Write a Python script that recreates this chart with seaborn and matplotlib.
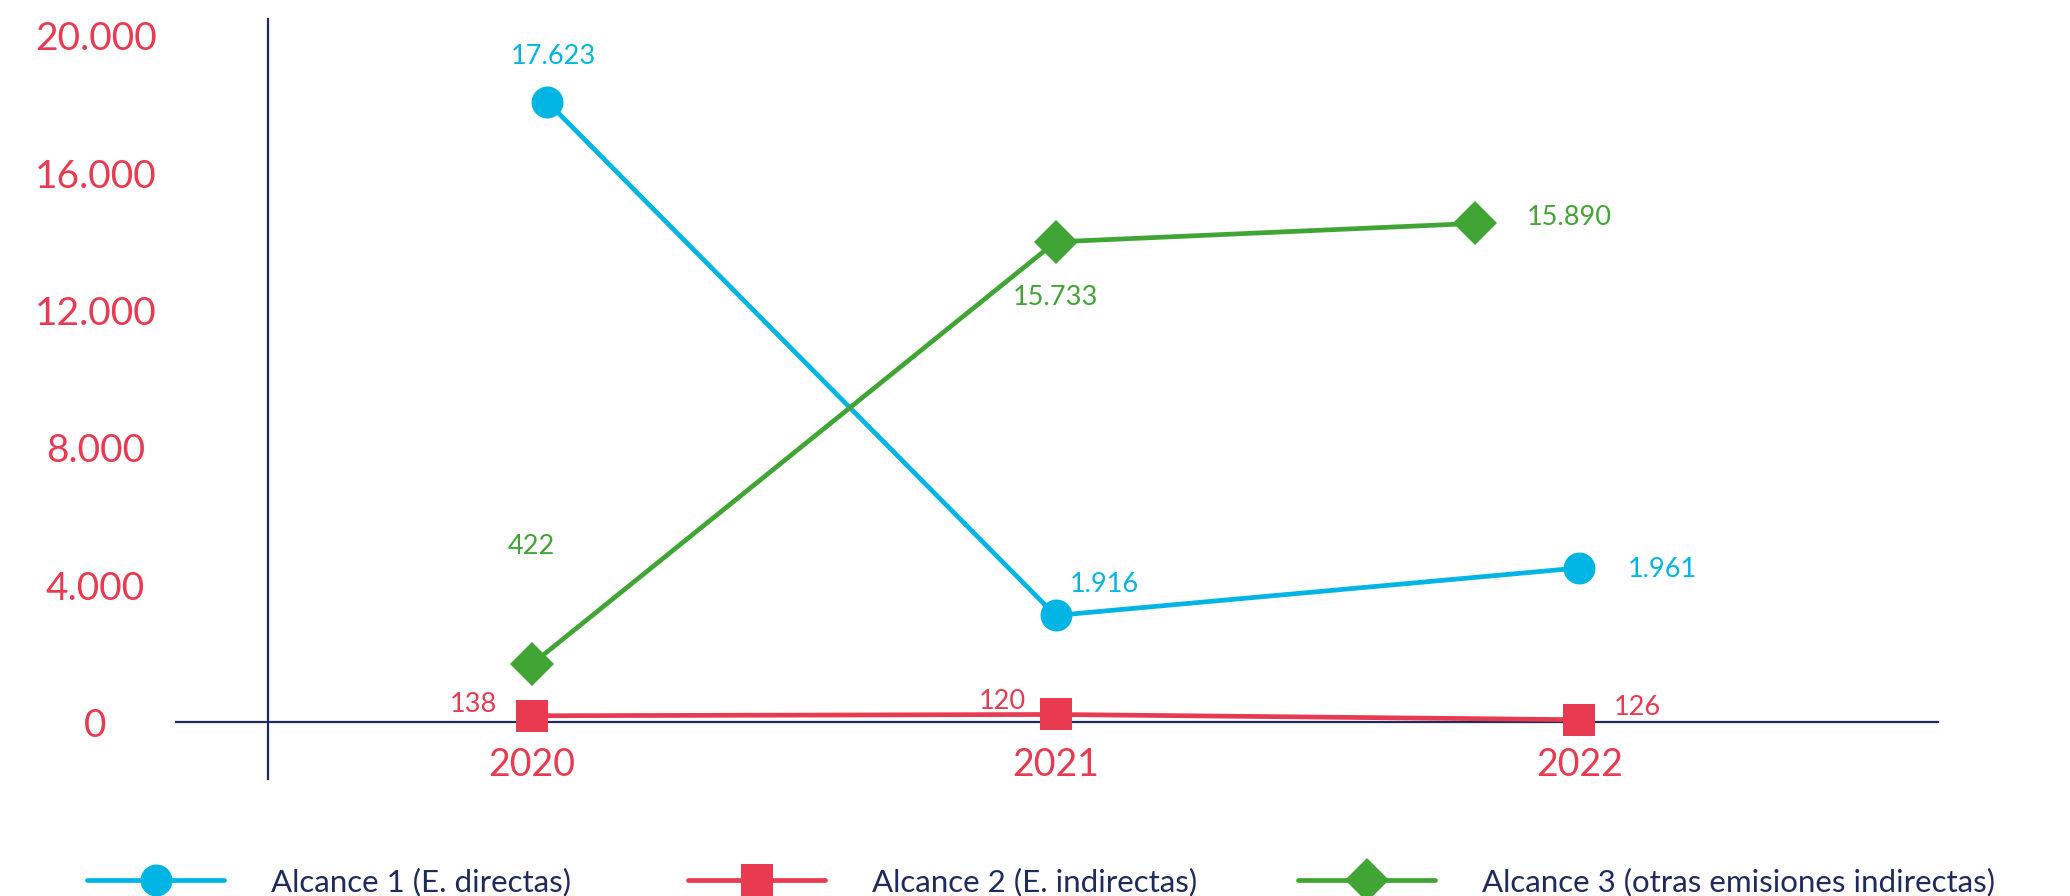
import matplotlib
matplotlib.use("Agg")
import matplotlib.pyplot as plt
import seaborn as sns

# data (plotted positions) and the printed labels
years = [2020, 2021, 2022]
a1_x = [2020.03, 2021.0, 2022.0]
a1_y = [18077, 3115, 4500]
a1_labels = ["17.623", "1.916", "1.961"]

a2_x = [2020.0, 2021.0, 2022.0]
a2_y = [192, 230, 77]
a2_labels = ["138", "120", "126"]

a3_x = [2020.0, 2021.0, 2021.8]
a3_y = [1692, 14000, 14538]
a3_labels = ["422", "15.733", "15.890"]

series_names = ["Alcance 1 (E. directas)",
                "Alcance 2 (E. indirectas)",
                "Alcance 3 (otras emisiones indirectas)"]
yticks = [0, 4000, 8000, 12000, 16000, 20000]

#colours
BLUE = "#00B5E4"
RED = "#E83A50"
GREEN = "#41A535"
NAVY = "#1F2A5E"

sns.set_style("white")
plt.rcParams["font.family"] = ["Lato", "DejaVu Sans"]

fig = plt.figure(figsize=(20.7, 8.96), dpi=100)
ax = fig.add_axes([0.0848, 0.1306, 0.8515, 0.8484])

# lines
sns.lineplot(x=a1_x, y=a1_y, ax=ax, color=BLUE, linewidth=3.4, marker="o",
             markersize=23, markeredgewidth=0, sort=False, label=series_names[0], zorder=3)
sns.lineplot(x=a2_x, y=a2_y, ax=ax, color=RED, linewidth=3.4, marker="s",
             markersize=23, markeredgewidth=0, sort=False, label=series_names[1], zorder=3)
sns.lineplot(x=a3_x, y=a3_y, ax=ax, color=GREEN, linewidth=3.4, marker="D",
             markersize=22, markeredgewidth=0, sort=False, label=series_names[2], zorder=3)

# data labels (offsets in points)
offsets = {
    "a1": [(4, 33), (35, 22), (60, -1)],
    "a2": [(-42, 8), (-38, 9), (42, 9)],
    "a3": [(0, 85), (0, -40), (68, 4)],
}
for key, xs, ys, labs, col in [("a1", a1_x, a1_y, a1_labels, BLUE),
                               ("a2", a2_x, a2_y, a2_labels, RED),
                               ("a3", a3_x, a3_y, a3_labels, GREEN)]:
    for x, y, lab, off in zip(xs, ys, labs, offsets[key]):
        ax.annotate(lab, (x, y), xytext=off, textcoords="offset points",
                    ha="center", va="center", color=col, fontsize=19.5)

# axes
ax.set_xlim(2019.32, 2022.685)
ax.set_ylim(-1650, 20500)
ax.spines["left"].set_position(("data", 2019.496))
ax.spines["bottom"].set_position(("data", 0))
for s in ["top", "right"]:
    ax.spines[s].set_visible(False)
for s in ["left", "bottom"]:
    ax.spines[s].set_color(NAVY)
    ax.spines[s].set_linewidth(1.6)

ax.set_xticks(years)
ax.set_xticklabels([str(y) for y in years])
ax.set_yticks(yticks)
ax.set_yticklabels([f"{v:,}".replace(",", ".") for v in yticks])
ax.tick_params(axis="x", length=0, pad=18, labelsize=27, labelcolor=RED)
ax.tick_params(axis="y", length=0, pad=124, labelsize=28, labelcolor=RED)
for t in ax.get_yticklabels():
    t.set_horizontalalignment("center")
ax.grid(False)

# legend, one per entry at the bottom
handles, labels = ax.get_legend_handles_labels()
ax.get_legend().remove()
leg_x = [0.042, 0.3323, 0.627]
for h, lab, lx in zip(handles, labels, leg_x):
    lg = fig.legend([h], [lab], loc="center left", bbox_to_anchor=(lx, 0.016),
                    frameon=False, fontsize=22.5, handlelength=4.4, handletextpad=1.5,
                    borderpad=0, borderaxespad=0, numpoints=1)
    for txt in lg.get_texts():
        txt.set_color(NAVY)

fig.savefig("out.png", dpi=100)
